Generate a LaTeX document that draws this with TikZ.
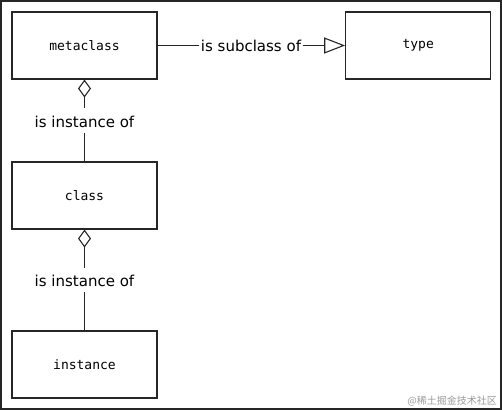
\documentclass[tikz,border=0pt]{standalone}
\usepackage{fontspec}
\setmainfont{DejaVu Sans}
\newfontfamily\boxfont{DejaVu Sans Mono}
\newfontfamily\cjk{Noto Sans CJK SC}
\usetikzlibrary{arrows.meta}
\begin{document}
\begin{tikzpicture}[x=1pt,y=-1pt,
  umlbox/.style={draw=black!85, line width=1.1pt, minimum width=145pt, minimum height=67pt, inner sep=0pt, font=\boxfont\fontsize{13}{15}\selectfont},
  rel/.style={font=\fontsize{15}{18}\selectfont, inner xsep=1.5pt, inner ysep=0pt},
  vlab/.style={rel, text height=19pt, text depth=5.5pt},
  conn/.style={draw=black!85, line width=1.1pt}]
\useasboundingbox (0,0) rectangle (502,410);
\draw[black!85, line width=1.6pt] (1,1) rectangle (501,409);
\node[umlbox] (meta) at (84.5,45.5) {metaclass};
\node[umlbox] (type) at (418.2,45.5) {type};
\node[umlbox] (class) at (84.5,195.5) {class};
\node[umlbox] (inst) at (84.5,364.5) {instance};
\node[rel, anchor=base] (sub) at (251,51) {is subclass of};
\node[vlab] (io1) at (84.5,120.5) {is instance of};
\node[vlab] (io2) at (84.5,280) {is instance of};
\draw[conn] (meta.east) -- (meta.east -| sub.west);
\draw[conn, -{Triangle[open, length=21pt, width=16pt]}] (meta.east -| sub.east) -- (type.west);
\draw[conn, {Diamond[open, length=18pt, width=13pt]}-] (meta.south) -- (io1.north);
\draw[conn] (io1.south) -- (class.north);
\draw[conn, {Diamond[open, length=18pt, width=13pt]}-] (class.south) -- (io2.north);
\draw[conn] (io2.south) -- (inst.north);
\node[anchor=east, text=black!40, font=\cjk\fontsize{10}{12}\selectfont, inner sep=0pt] (wm) at (497,401) {@稀土掘金技术社区};
\end{tikzpicture}
\end{document}
